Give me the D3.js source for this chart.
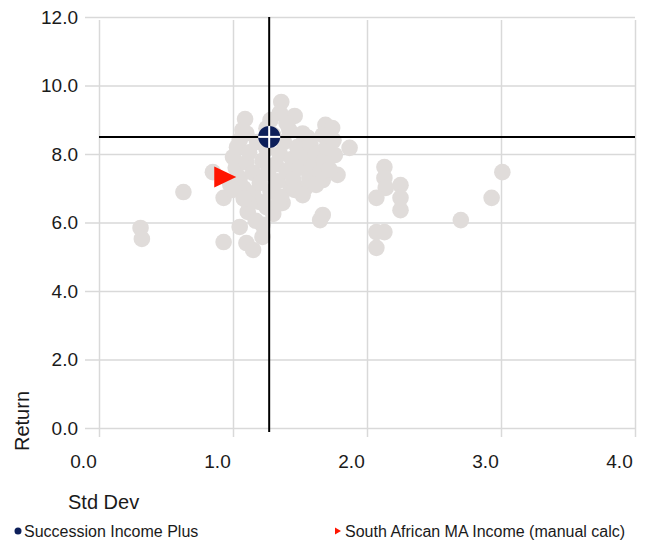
<!DOCTYPE html>
<html><head><meta charset="utf-8">
<script src="https://cdn.jsdelivr.net/npm/d3@7"></script>
<style>body{margin:0;background:#fff;font-family:"Liberation Sans",Arial,sans-serif;}</style>
</head><body><svg id="c" width="645" height="545"></svg>
<script>
const xTicks = [0, 1, 2, 3, 4];
const yTicks = [0, 2, 4, 6, 8, 10, 12];
const xLabel = "Std Dev";
const yLabel = "Return";
const peerStd = [0.31,0.32,0.63,0.93,0.85,0.93,
  2.13,2.13,2.14,2.07,2.25,2.25,2.25,2.07,2.13,2.07,2.70,2.93,3.01,
  1.87,1.67,1.65,
  1.36,1.46,1.35,1.09,1.07,1.05,1.28,1.69,1.74,1.67,1.56,1.76,1.78,1.67,1.54,1.43,1.37,1.25,1.11,1.05,1.10,1.15,1.22,1.22,1.00,1.03,
  1.02,1.05,1.08,1.10,1.12,1.15,1.15,1.18,1.20,1.20,1.22,1.25,1.26,1.28,1.30,1.32,1.33,1.35,1.36,1.38,1.40,1.42,1.44,1.45,1.48,1.50,1.52,1.55,1.57,1.58,1.60,1.62,1.65,1.68,1.70,1.72,1.75,1.12,1.17,1.30,1.40,1.46,1.62,1.25,1.10,0.98,1.00,1.34,1.52,1.08];
const peerRet = [5.84,5.52,6.89,5.43,7.47,6.72,
  7.62,7.30,7.01,6.72,7.09,6.72,6.36,5.72,5.72,5.26,6.07,6.72,7.47,
  8.18,6.22,6.07,
  9.52,9.11,9.20,9.02,8.70,8.41,8.99,8.85,8.76,8.55,8.47,7.97,7.39,7.24,7.01,7.04,6.57,6.45,6.31,5.87,5.40,5.20,5.93,5.58,7.91,8.20,
  7.60,7.30,7.00,7.75,8.05,7.45,6.85,8.35,7.15,6.60,7.80,8.15,7.45,6.90,8.55,7.70,7.20,8.00,6.75,8.35,7.50,8.70,7.85,7.25,8.20,7.60,8.60,7.90,7.30,8.25,7.65,8.00,7.45,7.80,8.20,7.55,8.40,6.55,6.05,6.25,8.90,6.95,7.10,8.75,8.60,7.10,6.95,6.55,6.80,6.70];
const fundName = "Succession Income Plus";
const fundStd = 1.27, fundRet = 8.5;
const benchName = "South African MA Income (manual calc)";
const benchStd = 0.92, benchRet = 7.33;

const svg = d3.select("#c");
const x = d3.scaleLinear().domain([0,4]).range([99,635]);
const y = d3.scaleLinear().domain([0,12]).range([428,17]);
const grid = "#d9d9d9";
const ink = "#1a1a1a";
const font = "Liberation Sans, Arial, sans-serif";

// horizontal gridlines + y labels
const yAxis = d3.axisLeft(y).tickValues(yTicks).tickSize(14).tickFormat(d3.format(".1f"));
const gy = svg.append("g").attr("transform","translate(99,0)").call(yAxis);
gy.select(".domain").remove();
gy.selectAll(".tick line").attr("x2", 635-99).attr("x1",-14).attr("stroke",grid).attr("stroke-width",1.5);
gy.selectAll(".tick text").attr("x",-21).attr("font-size",19).attr("fill",ink).attr("font-family",font);

// vertical gridlines + x labels
const xAxis = d3.axisBottom(x).tickValues(xTicks).tickSize(0).tickFormat(d3.format(".1f"));
const gx = svg.append("g").attr("transform","translate(0,428)").call(xAxis);
gx.select(".domain").remove();
gx.selectAll(".tick line").attr("y1",9).attr("y2", 20-428).attr("stroke",grid).attr("stroke-width",1.5);
gx.selectAll(".tick text").attr("x",-16).attr("y",33).attr("dy","0.35em").attr("font-size",19).attr("fill",ink).attr("font-family",font);

// peers
const peers = peerStd.map((s,i)=>({s, r: peerRet[i]}));
svg.append("g").selectAll("circle").data(peers).join("circle")
  .attr("cx",d=>x(d.s)).attr("cy",d=>y(d.r)).attr("r",8.3).attr("fill","#e0dcda");

// crosshair
svg.append("line").attr("x1",x(0)).attr("x2",x(4)).attr("y1",y(fundRet)).attr("y2",y(fundRet)).attr("stroke","#000").attr("stroke-width",2);
svg.append("line").attr("x1",x(fundStd)).attr("x2",x(fundStd)).attr("y1",y(12)).attr("y2",432).attr("stroke","#000").attr("stroke-width",2);

// fund marker
const fx = x(fundStd), fy = y(fundRet);
svg.append("circle").attr("cx",fx).attr("cy",fy).attr("r",11).attr("fill","#0d1f5a");
svg.append("line").attr("x1",fx-11).attr("x2",fx+11).attr("y1",fy).attr("y2",fy).attr("stroke","#fff").attr("stroke-width",2);
svg.append("line").attr("x1",fx).attr("x2",fx).attr("y1",fy-11).attr("y2",fy+11).attr("stroke","#fff").attr("stroke-width",2);

// benchmark triangle
const bx = x(benchStd), by = y(benchRet);
svg.append("path").attr("d",`M${bx-8},${by-10.5}L${bx+14},${by}L${bx-8},${by+10.5}Z`).attr("fill","#ff1500");

// axis titles
svg.append("text").attr("x",68).attr("y",502).attr("dy","0.35em").attr("font-size",20).attr("font-family",font).attr("fill",ink).text(xLabel);
svg.append("text").attr("transform","translate(29,451) rotate(-90)").attr("font-size",20).attr("font-family",font).attr("fill",ink).text(yLabel);

// legend
svg.append("circle").attr("cx",18).attr("cy",531).attr("r",3.5).attr("fill","#0d1f5a");
svg.append("text").attr("x",24).attr("y",531).attr("dy","0.35em").attr("font-size",16).attr("font-family",font).attr("fill",ink).text(fundName);
svg.append("path").attr("d","M335,527.5L341,531L335,534.5Z").attr("fill","#ff1500");
svg.append("text").attr("x",345).attr("y",531).attr("dy","0.35em").attr("font-size",16).attr("font-family",font).attr("fill",ink).text(benchName);
</script></body></html>
